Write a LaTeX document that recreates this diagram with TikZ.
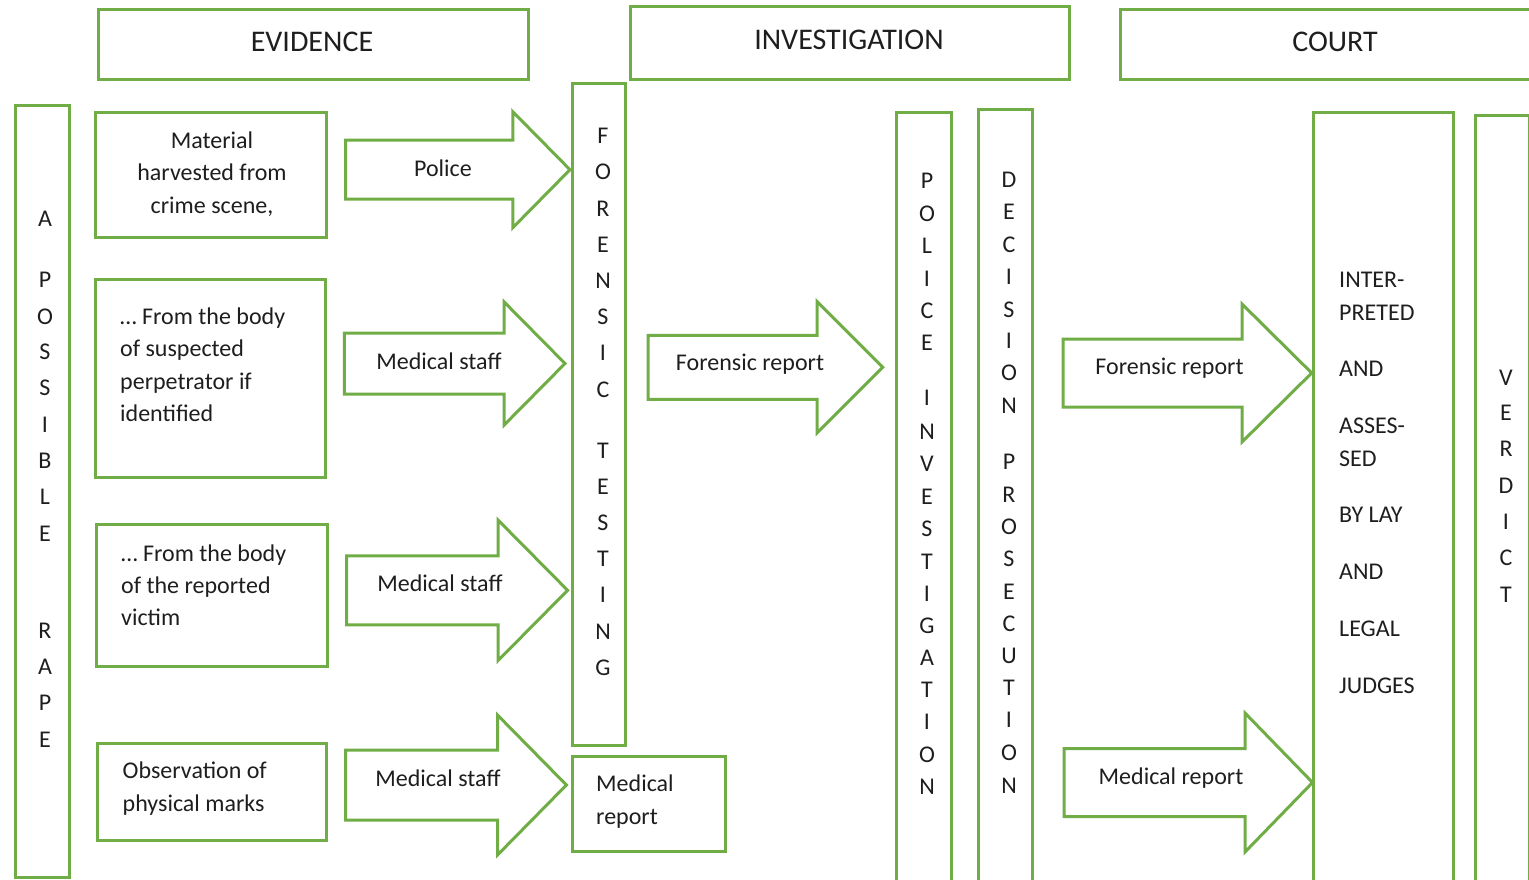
\documentclass[tikz,border=0pt]{standalone}
\usepackage{fontspec}
\setmainfont{Carlito}
\usetikzlibrary{fit}
\definecolor{grn}{HTML}{70AD47}
\definecolor{ink}{HTML}{1E1E1E}
\newcommand\blockarr[6]{\draw[barr] (#1,#4-#5) -- (#2,#4-#5) -- (#2,#4-#6) -- (#3,#4) -- (#2,#4+#6) -- (#2,#4+#5) -- (#1,#4+#5) -- cycle;}
\begin{document}
\begin{tikzpicture}[x=1pt,y=-1pt,
  box/.style={draw=grn, line width=3pt, inner sep=0pt},
  barr/.style={draw=grn, line width=3pt},
  txt/.style={font=\fontsize{24}{32}\selectfont, text=ink, inner sep=0pt},
  hdr/.style={font=\fontsize{30}{36}\selectfont, text=ink, inner sep=0pt}]
\useasboundingbox (0,0) rectangle (1529,879);
\clip (0,0) rectangle (1529,879);
% header boxes
\node[box, fit={(98,9.5) (528,79)}] (ev) {};
\node[box, fit={(630.7,6) (1069,79)}] (inv) {};
\node[box, fit={(1120,9.3) (1570,79.3)}] (crt) {};
\node[hdr, anchor=base] (evt) at (312,51.7) {EVIDENCE};
\node[hdr, anchor=base] (invt) at (849,49.3) {INVESTIGATION};
\node[hdr, anchor=base] (crtt) at (1335,51.7) {COURT};
% column boxes
\node[box, fit={(15.3,105) (69.7,877)}] (rape) {};
\node[box, fit={(572,83.5) (625.7,745.7)}] (fore) {};
\node[box, fit={(572,756.7) (725,851.7)}] (medrep) {};
\node[box, fit={(896.7,112.3) (951.7,900)}] (polinv) {};
\node[box, fit={(978,109) (1032,900)}] (decis) {};
\node[box, fit={(1313,112.3) (1453,900)}] (interp) {};
\node[box, fit={(1475.7,115) (1529.5,900)}] (verd) {};
% evidence boxes
\node[box, fit={(95.7,112) (326.4,237.7)}] (e1) {};
\node[box, fit={(95.4,279) (325.7,477)}] (e2) {};
\node[box, fit={(96,524) (327,666)}] (e3) {};
\node[box, fit={(97.6,743) (326.4,840)}] (e4) {};
% texts of evidence boxes
\foreach \t/\y [count=\i] in {{Material}/141,{harvested from}/173,{crime scene,}/206}
  \node[txt, anchor=base] (ea\i) at (212,\y+7.5) {\t};
\foreach \t/\y [count=\i] in {{… From the body}/317,{of suspected}/349,{perpetrator if}/382,{identified}/414}
  \node[txt, anchor=base west] (eb\i) at (120,\y+7.5) {\t};
\foreach \t/\y [count=\i] in {{… From the body}/554,{of the reported}/586,{victim}/618}
  \node[txt, anchor=base west] (ec\i) at (121,\y+7.5) {\t};
\foreach \t/\y [count=\i] in {{Observation of}/771,{physical marks}/804}
  \node[txt, anchor=base west] (ed\i) at (122.5,\y+7.5) {\t};
\foreach \t/\y [count=\i] in {{Medical}/784,{report}/817}
  \node[txt, anchor=base west] (mr\i) at (596,\y+7.5) {\t};
% block arrows
\blockarr{345.6}{512.8}{570}{169.7}{29.5}{58}
\blockarr{344.4}{504}{565}{363.5}{30.5}{61.7}
\blockarr{346.5}{498}{567.6}{590.3}{34.5}{70.3}
\blockarr{345.6}{497.5}{566.4}{785}{35}{70}
\blockarr{648}{817}{882.7}{367.3}{32}{65.7}
\blockarr{1063}{1242}{1311.7}{373}{34}{69}
\blockarr{1064}{1245}{1312.5}{782.5}{34}{69.5}
\node[txt, anchor=base] (l1) at (443,169+7.5) {Police};
\node[txt, anchor=base] (l2) at (439,362+7.5) {Medical staff};
\node[txt, anchor=base] (l3) at (440,584+7.5) {Medical staff};
\node[txt, anchor=base] (l4) at (438,779+7.5) {Medical staff};
\node[txt, anchor=base] (l5) at (750,363+7.5) {Forensic report};
\node[txt, anchor=base] (l6) at (1169.5,367+7.5) {Forensic report};
\node[txt, anchor=base] (l7) at (1171,777+7.5) {Medical report};
% vertical letter columns
\foreach \l/\y [count=\i] in {A/219,P/280,O/317,S/352,S/388,I/425,B/461,L/497,E/534,R/631,A/667,P/703,E/740}
  \node[txt, anchor=base] (ra\i) at (45,\y+7.3) {\l};
\foreach \l/\y [count=\i] in {F/136,O/172,R/209,E/245,N/281,S/317,I/353,C/390,T/451,E/487,S/523,T/559,I/595,N/632,G/668}
  \node[txt, anchor=base] (fo\i) at (603,\y+7.3) {\l};
\foreach \l/\y [count=\i] in {P/181,O/214,L/246,I/279,C/311,E/343,I/398,N/432,V/464,E/497,S/529,T/562,I/594,G/626,A/658,T/690,I/722,O/755,N/787}
  \node[txt, anchor=base] (po\i) at (927,\y+7.3) {\l};
\foreach \l/\y [count=\i] in {D/180,E/212,C/245,I/277,S/310,I/341,O/373,N/406,P/462,R/495,O/527,S/559,E/592,C/624,U/656,T/688,I/720,O/753,N/786}
  \node[txt, anchor=base] (de\i) at (1009,\y+7.3) {\l};
\foreach \l/\y [count=\i] in {V/378,E/413,R/449,D/486,I/522,C/558,T/595}
  \node[txt, anchor=base] (ve\i) at (1506,\y+7.3) {\l};
\foreach \t/\y [count=\i] in {{INTER-}/280,{PRETED}/313,{AND}/369,{ASSES-}/426,{SED}/459,{BY LAY}/515,{AND}/572,{LEGAL}/629,{JUDGES}/686}
  \node[txt, anchor=base west] (ct\i) at (1339,\y+7.3) {\t};
\end{tikzpicture}
\end{document}
